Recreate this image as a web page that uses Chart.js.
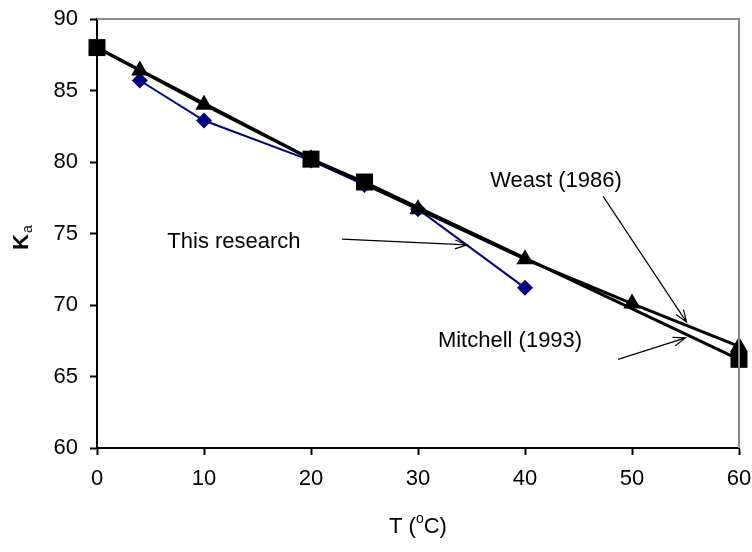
<!DOCTYPE html>
<html>
<head>
<meta charset="utf-8">
<title>Ka vs T</title>
<script src="https://cdn.jsdelivr.net/npm/chart.js@4"></script>
<style>
  html, body { margin: 0; padding: 0; background: #fff; }
  #wrap { width: 752px; height: 552px; }
</style>
</head>
<body>
<div id="wrap"><canvas id="kaChart"></canvas></div>
<script>
// Dielectric constant of water against temperature
var weastT = [0, 4, 10, 20, 25, 30, 40, 50, 60];
var weastKa = [88.0, 86.4, 84.0, 80.2, 78.5, 76.7, 73.2, 70.1, 67.1];

var mitchellT = [0, 20, 25, 60];
var mitchellKa = [88.0, 80.2, 78.6, 66.2];

var researchT = [4, 10, 20, 25, 30, 40];
var researchKa = [85.7, 82.9, 80.1, 78.4, 76.7, 71.2];

var xTicks = [0, 10, 20, 30, 40, 50, 60];
var yTicks = [60, 65, 70, 75, 80, 85, 90];

// Labels with arrows, in data units: [text, textX, textY, fromX, fromY, toX, toY]
var notes = [
    ['This research', 12.8, 74.4, 22.9, 74.6, 34.6, 74.2],
    ['Weast (1986)', 42.9, 78.7, 47.3, 77.6, 55.1, 68.8],
    ['Mitchell (1993)', 38.6, 67.5, 48.7, 66.2, 55.0, 67.7]
];

var FONT = '"Liberation Sans", Arial, sans-serif';

function toPoints(xs, ys) {
    return xs.map(function(x, i) { return { x: x, y: ys[i] }; });
}

// keep the plot box fixed: no extra room for overhanging tick labels
function fixBox(size) {
    return function(scale) {
        if (scale.isHorizontal()) {
            scale.height = size;
        } else {
            scale.width = size;
        }
        scale.paddingLeft = 0;
        scale.paddingRight = 0;
        scale.paddingTop = 0;
        scale.paddingBottom = 0;
    };
}

// Gray frame on top/right, axis titles and the arrow notes
var extras = {
    id: 'extras',
    afterDatasetsDraw: function(chart) {
        var ctx = chart.ctx;
        var area = chart.chartArea;
        var xs = chart.scales.x;
        var ys = chart.scales.y;

        ctx.save();
        ctx.strokeStyle = '#8c8c8c';
        ctx.lineWidth = 2;
        ctx.beginPath();
        ctx.moveTo(area.left, area.top);
        ctx.lineTo(area.right, area.top);
        ctx.lineTo(area.right, area.bottom);
        ctx.stroke();

        ctx.fillStyle = '#000';
        ctx.strokeStyle = '#000';
        ctx.lineWidth = 1.2;
        ctx.textBaseline = 'middle';
        ctx.textAlign = 'center';
        ctx.font = '22px ' + FONT;
        notes.forEach(function(n) {
            ctx.fillText(n[0], xs.getPixelForValue(n[1]), ys.getPixelForValue(n[2]));
            var x1 = xs.getPixelForValue(n[3]), y1 = ys.getPixelForValue(n[4]);
            var x2 = xs.getPixelForValue(n[5]), y2 = ys.getPixelForValue(n[6]);
            var ang = Math.atan2(y2 - y1, x2 - x1);
            ctx.beginPath();
            ctx.moveTo(x1, y1);
            ctx.lineTo(x2, y2);
            ctx.moveTo(x2 - 13 * Math.cos(ang - 0.35), y2 - 13 * Math.sin(ang - 0.35));
            ctx.lineTo(x2, y2);
            ctx.lineTo(x2 - 13 * Math.cos(ang + 0.35), y2 - 13 * Math.sin(ang + 0.35));
            ctx.stroke();
        });

        // x title: T (oC)
        var cx = (area.left + area.right) / 2;
        var ty = 527;
        ctx.textAlign = 'left';
        ctx.font = '22px ' + FONT;
        var w1 = ctx.measureText('T (').width;
        ctx.font = '14px ' + FONT;
        var w2 = ctx.measureText('o').width;
        ctx.font = '22px ' + FONT;
        var w3 = ctx.measureText('C)').width;
        var sx = cx - (w1 + w2 + w3) / 2;
        ctx.fillText('T (', sx, ty);
        ctx.font = '14px ' + FONT;
        ctx.fillText('o', sx + w1, ty - 8);
        ctx.font = '22px ' + FONT;
        ctx.fillText('C)', sx + w1 + w2, ty);

        // y title: Ka, read bottom to top
        ctx.translate(22, 238);
        ctx.rotate(-Math.PI / 2);
        ctx.font = 'bold 22px ' + FONT;
        var kw = ctx.measureText('K').width;
        ctx.fillText('K', -kw / 2 - 4, 0);
        ctx.font = '14px ' + FONT;
        ctx.fillText('a', kw / 2 - 3, 6);
        ctx.restore();
    }
};

var ctx = document.getElementById('kaChart').getContext('2d');
new Chart(ctx, {
    type: 'scatter',
    data: {
        datasets: [
            {
                label: 'Mitchell (1993)',
                data: toPoints(mitchellT, mitchellKa),
                showLine: true,
                clip: false,
                borderColor: '#000',
                backgroundColor: '#000',
                borderWidth: 3,
                pointStyle: 'rect',
                pointRadius: 12,
                pointBorderWidth: 0
            },
            {
                label: 'Weast (1986)',
                data: toPoints(weastT, weastKa),
                showLine: true,
                clip: false,
                borderColor: '#000',
                backgroundColor: '#000',
                borderWidth: 3,
                pointStyle: 'triangle',
                pointRadius: 10,
                pointBorderWidth: 0
            },
            {
                label: 'This research',
                data: toPoints(researchT, researchKa),
                showLine: true,
                clip: false,
                borderColor: '#000080',
                backgroundColor: '#000080',
                borderWidth: 2,
                pointStyle: 'rectRot',
                pointRadius: 8,
                pointBorderWidth: 0
            }
        ]
    },
    options: {
        responsive: true,
        maintainAspectRatio: false,
        animation: false,
        layout: {
            padding: { top: 19, right: 13, left: 0, bottom: 0 }
        },
        plugins: {
            legend: { display: false },
            tooltip: { enabled: false }
        },
        scales: {
            x: {
                type: 'linear',
                min: 0,
                max: 60,
                afterFit: fixBox(104),
                afterBuildTicks: function(scale) {
                    scale.ticks = xTicks.map(function(v) { return { value: v }; });
                },
                grid: {
                    drawOnChartArea: false,
                    tickLength: 7,
                    tickColor: '#000',
                    tickWidth: 2
                },
                border: { color: '#000', width: 2 },
                ticks: {
                    color: '#000',
                    padding: 11,
                    maxRotation: 0,
                    font: { family: FONT, size: 22 }
                }
            },
            y: {
                min: 60,
                max: 90,
                afterFit: fixBox(97),
                afterBuildTicks: function(scale) {
                    scale.ticks = yTicks.map(function(v) { return { value: v }; });
                },
                grid: {
                    drawOnChartArea: false,
                    tickLength: 7,
                    tickColor: '#000',
                    tickWidth: 2
                },
                border: { color: '#000', width: 2 },
                ticks: {
                    color: '#000',
                    padding: 12,
                    font: { family: FONT, size: 22 }
                }
            }
        }
    },
    plugins: [extras]
});
</script>
</body>
</html>
